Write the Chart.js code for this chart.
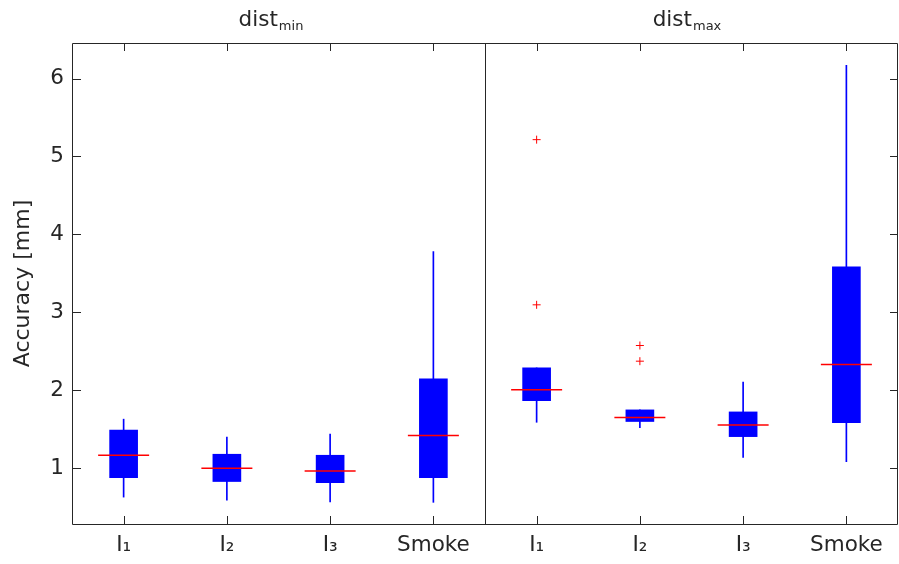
<!DOCTYPE html>
<html>
<head>
<meta charset="utf-8">
<script src="https://cdn.jsdelivr.net/npm/chart.js@4.4.1/dist/chart.umd.min.js"></script>
<style>
  html, body { margin: 0; padding: 0; background: #ffffff; }
  #wrap { width: 899px; height: 564px; position: relative; }
</style>
</head>
<body>
<div id="wrap"><canvas id="c" width="899" height="564"></canvas></div>
<script>
// ---- data ----
const categories = ['I\u2081', 'I\u2082', 'I\u2083', 'Smoke', 'I\u2081', 'I\u2082', 'I\u2083', 'Smoke'];
const panelTitles = [['dist', 'min'], ['dist', 'max']];
const whiskerLow  = [0.63, 0.59, 0.567, 0.563, 1.59, 1.52, 1.14, 1.085];
const q1          = [0.88, 0.83, 0.815, 0.88, 1.868, 1.60, 1.406, 1.586];
const median      = [1.167, 1.00, 0.965, 1.42, 2.006, 1.65, 1.556, 2.33];
const q3          = [1.49, 1.18, 1.167, 2.147, 2.288, 1.749, 1.723, 3.585];
const whiskerHigh = [1.63, 1.40, 1.44, 3.78, 2.288, 1.749, 2.105, 6.17];
const outliersA   = [null, null, null, null, 5.216, 2.575, null, null];
const outliersB   = [null, null, null, null, 3.097, 2.374, null, null];
const yTicks      = [1, 2, 3, 4, 5, 6];
const yRange      = [0.285, 6.456];
const yTitle      = 'Accuracy [mm]';

const AXIS = '#262626';
const FONT = 'DejaVu Sans';

const framePlugin = {
  id: 'frame',
  afterDraw(chart) {
    const ctx = chart.ctx;
    const a = chart.chartArea;
    const xs = chart.scales.x;
    const ys = chart.scales.y;
    ctx.save();
    ctx.strokeStyle = AXIS;
    ctx.lineWidth = 1;
    ctx.beginPath();
    ctx.rect(Math.round(a.left) + 0.5, Math.round(a.top) + 0.5,
             Math.round(a.right - a.left) - 1, Math.round(a.bottom - a.top));
    const half = categories.length / 2;
    const dx = Math.round((xs.getPixelForValue(half - 1) + xs.getPixelForValue(half)) / 2) + 0.5;
    ctx.moveTo(dx, a.top);
    ctx.lineTo(dx, a.bottom);
    const tl = 8;
    for (let i = 0; i < categories.length; i++) {
      const px = Math.round(xs.getPixelForValue(i)) + 0.5;
      ctx.moveTo(px, a.bottom);
      ctx.lineTo(px, a.bottom - tl);
      ctx.moveTo(px, a.top);
      ctx.lineTo(px, a.top + tl);
    }
    yTicks.forEach(v => {
      const py = Math.round(ys.getPixelForValue(v)) + 0.5;
      ctx.moveTo(a.left, py);
      ctx.lineTo(a.left + tl + 1, py);
      ctx.moveTo(a.right, py);
      ctx.lineTo(a.right - tl, py);
    });
    ctx.stroke();

    ctx.fillStyle = AXIS;
    ctx.textBaseline = 'alphabetic';
    const offsets = [-8, -5];
    panelTitles.forEach((t, p) => {
      const c = (xs.getPixelForValue(p * half + 1) + xs.getPixelForValue(p * half + 2)) / 2 + offsets[p];
      ctx.font = '21.5px "' + FONT + '"';
      const w1 = ctx.measureText(t[0]).width;
      ctx.font = '13px "' + FONT + '"';
      const w2 = ctx.measureText(t[1]).width;
      const x0 = c - (w1 + w2) / 2;
      ctx.font = '21.5px "' + FONT + '"';
      ctx.fillText(t[0], x0, 26);
      ctx.font = '13px "' + FONT + '"';
      ctx.fillText(t[1], x0 + w1 + 1, 30);
    });
    ctx.restore();
  }
};

const ctx = document.getElementById('c').getContext('2d');
new Chart(ctx, {
  type: 'bar',
  data: {
    labels: categories,
    datasets: [
      {
        label: 'whisker',
        data: whiskerLow.map((v, i) => [v, whiskerHigh[i]]),
        backgroundColor: '#0000ff',
        barThickness: 1,
        grouped: false,
        order: 4
      },
      {
        label: 'box',
        data: q1.map((v, i) => [v, q3[i]]),
        backgroundColor: '#0000ff',
        barThickness: 28,
        grouped: false,
        order: 3
      },
      {
        type: 'line',
        label: 'median',
        data: median,
        showLine: false,
        pointStyle: 'line',
        pointRadius: 25.5,
        pointBorderColor: '#ff0000',
        pointBorderWidth: 1.5,
        order: 2
      },
      {
        type: 'line',
        label: 'outliers A',
        data: outliersA,
        showLine: false,
        pointStyle: 'cross',
        pointRadius: 4,
        pointBorderColor: '#ff0000',
        pointBorderWidth: 1,
        order: 1
      },
      {
        type: 'line',
        label: 'outliers B',
        data: outliersB,
        showLine: false,
        pointStyle: 'cross',
        pointRadius: 4,
        pointBorderColor: '#ff0000',
        pointBorderWidth: 1,
        order: 1
      }
    ]
  },
  options: {
    responsive: false,
    animation: false,
    events: [],
    layout: { autoPadding: false, padding: { top: 43, right: 1, left: 0, bottom: 0 } },
    plugins: { legend: { display: false }, tooltip: { enabled: false } },
    scales: {
      x: {
        type: 'category',
        offset: true,
        grid: { display: false, drawTicks: false },
        border: { display: false },
        ticks: {
          color: AXIS,
          font: { family: FONT, size: 21.5 },
          padding: 9,
          maxRotation: 0,
          autoSkip: false
        },
        afterFit(scale) { scale.height = 40; scale.paddingLeft = 0; scale.paddingRight = 0; }
      },
      y: {
        type: 'linear',
        min: yRange[0],
        max: yRange[1],
        grid: { display: false, drawTicks: false },
        border: { display: false },
        afterBuildTicks(scale) { scale.ticks = yTicks.map(v => ({ value: v })); },
        ticks: {
          color: AXIS,
          font: { family: FONT, size: 21.5 },
          padding: 8,
          includeBounds: false
        },
        title: {
          display: true,
          text: yTitle,
          color: AXIS,
          font: { family: FONT, size: 22 },
          padding: { top: 10, bottom: 0 }
        },
        afterFit(scale) { scale.width = 72; scale.paddingTop = 0; scale.paddingBottom = 0; }
      }
    }
  },
  plugins: [framePlugin]
});
</script>
</body>
</html>
